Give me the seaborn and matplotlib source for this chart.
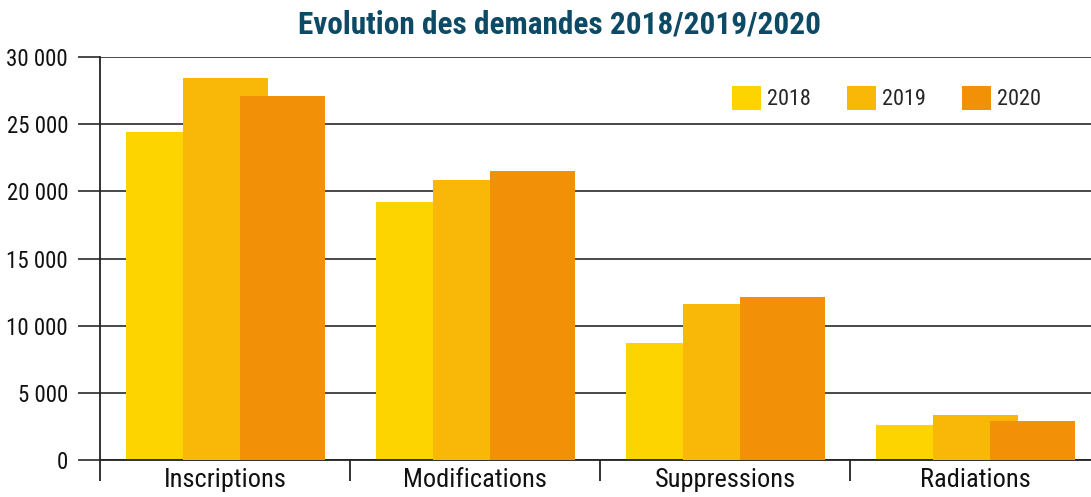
import matplotlib
matplotlib.use("Agg")
import matplotlib.pyplot as plt
import matplotlib.ticker as mticker
import seaborn as sns
import pandas as pd

categories = ["Inscriptions", "Modifications", "Suppressions", "Radiations"]
years = ["2018", "2019", "2020"]
values_2018 = [24400, 19230, 8690, 2610]
values_2019 = [28470, 20850, 11640, 3330]
values_2020 = [27130, 21520, 12110, 2880]
colors = ["#FDD300", "#F9B807", "#F29107"]
title = "Evolution des demandes 2018/2019/2020"
yticks = [0, 5000, 10000, 15000, 20000, 25000, 30000]

rows = []
for yr, vals in zip(years, [values_2018, values_2019, values_2020]):
    for c, v in zip(categories, vals):
        rows.append({"cat": c, "year": yr, "value": v})
df = pd.DataFrame(rows)

sns.set_style("white")
plt.rcParams["font.family"] = ["Roboto Condensed", "DejaVu Sans"]

W, H = 1091, 497
fig = plt.figure(figsize=(W / 100, H / 100), dpi=100)
ax = fig.add_axes([100 / W, (H - 460) / H, 991 / W, (460 - 57) / H])

sns.barplot(data=df, x="cat", y="value", hue="year", order=categories,
            hue_order=years, palette=colors, width=0.684, dodge=True,
            saturation=1, ax=ax, errorbar=None, linewidth=0)

new_w = 0.34
for z, cont in enumerate(ax.containers):
    for p in cont:
        c = p.get_x() + p.get_width() / 2
        p.set_width(new_w)
        p.set_x(c - new_w / 2)
        p.set_zorder(2 + z)

ax.set_xlim(-0.5, -0.5 + 991 / 250)
ax.set_ylim(0, 30000)
ax.set_yticks(yticks)
ax.yaxis.set_major_formatter(mticker.FuncFormatter(lambda v, p: f"{int(v):,}".replace(",", " ")))
ax.set_xlabel("")
ax.set_ylabel("")

grid_c = "#3a3a3a"
ax.set_axisbelow(True)
ax.yaxis.grid(True, color=grid_c, linewidth=1.3)
ax.tick_params(axis="y", length=16, width=1.3, color=grid_c, pad=7,
               labelsize=16.5, labelcolor="#111111", left=True)
ax.tick_params(axis="x", which="major", length=0, pad=6, labelsize=19,
               labelcolor="#111111")
ax.set_xticks([-0.5, 0.5, 1.5, 2.5], minor=True)
ax.tick_params(axis="x", which="minor", length=15, width=1.3, color="#222222",
               bottom=True, direction="out")

for s in ["top", "right"]:
    ax.spines[s].set_visible(False)
for s in ["left", "bottom"]:
    ax.spines[s].set_color("#222222")
    ax.spines[s].set_linewidth(1.3)

leg = ax.legend(ncol=3, frameon=False, loc="center right",
                bbox_to_anchor=(0.97, 0.898), fontsize=16,
                handlelength=1.3, handleheight=1.3, handletextpad=0.3,
                columnspacing=1.6)
for h in leg.legend_handles:
    h.set_linewidth(0)

fig.text(560 / W, 1 - 24 / H, title, ha="center", va="center",
         fontsize=22.5, fontweight="bold", color="#0C4A66")

fig.savefig("out.png", dpi=100)
